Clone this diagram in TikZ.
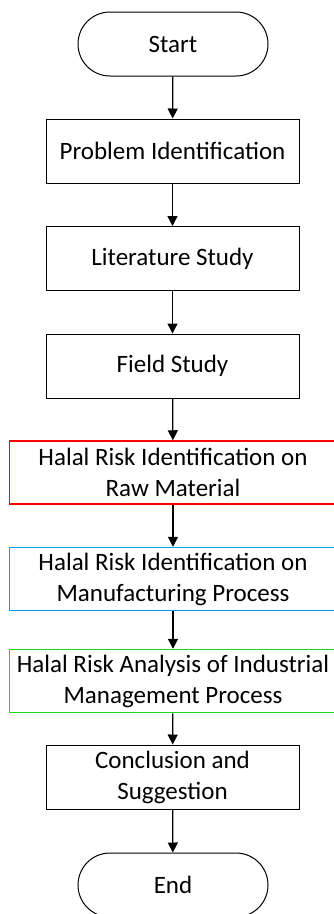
\documentclass[tikz,border=0pt]{standalone}
\usepackage{fontspec}
\setmainfont{Carlito}
\usetikzlibrary{arrows.meta,positioning}
\definecolor{hred}{RGB}{255,0,0}
\definecolor{hblue}{RGB}{0,160,235}
\definecolor{hgreen}{RGB}{30,215,30}
\tikzset{
  base/.style={draw=black, line width=1pt, align=center, inner sep=0pt,
    font=\fontsize{25}{31}\selectfont, text=black},
  term/.style={base, minimum width=190pt, minimum height=64pt, rounded corners=32pt},
  proc/.style={base, minimum width=253pt, minimum height=64pt},
  wide/.style={base, minimum width=327pt, minimum height=63pt, line width=1.5pt},
  arr/.style={line width=1.3pt, -{Triangle[length=10pt,width=10pt]}}
}
\begin{document}
\begin{tikzpicture}[x=1pt,y=-1pt]
\useasboundingbox (0,0) rectangle (334,914);
\clip (0,0) rectangle (334,914);
\node[term] (start) at (173,44) {Start};
\node[proc] (pi) at (172.5,151) {Problem Identification};
\node[proc] (ls) at (172.5,258.5) {Literature Study};
\node[proc] (fs) at (172.5,366) {Field Study};
\node[wide, draw=hred] (hr) at (173,472.5) {Halal Risk Identification on\\Raw Material};
\node[wide, draw=hblue] (hm) at (173,579) {Halal Risk Identification on\\Manufacturing Process};
\node[wide, draw=hgreen] (ha) at (173,681) {Halal Risk Analysis of Industrial\\Management Process};
\node[proc] (cs) at (172.5,777) {Conclusion and\\Suggestion};
\node[term] (end) at (173,885) {End};
\draw[arr] (start) -- (pi);
\draw[arr] (pi) -- (ls);
\draw[arr] (ls) -- (fs);
\draw[arr] (fs) -- (hr);
\draw[arr] (hr) -- (hm);
\draw[arr] (hm) -- (ha);
\draw[arr] (ha) -- (cs);
\draw[arr] (cs) -- (end);
\end{tikzpicture}
\end{document}
